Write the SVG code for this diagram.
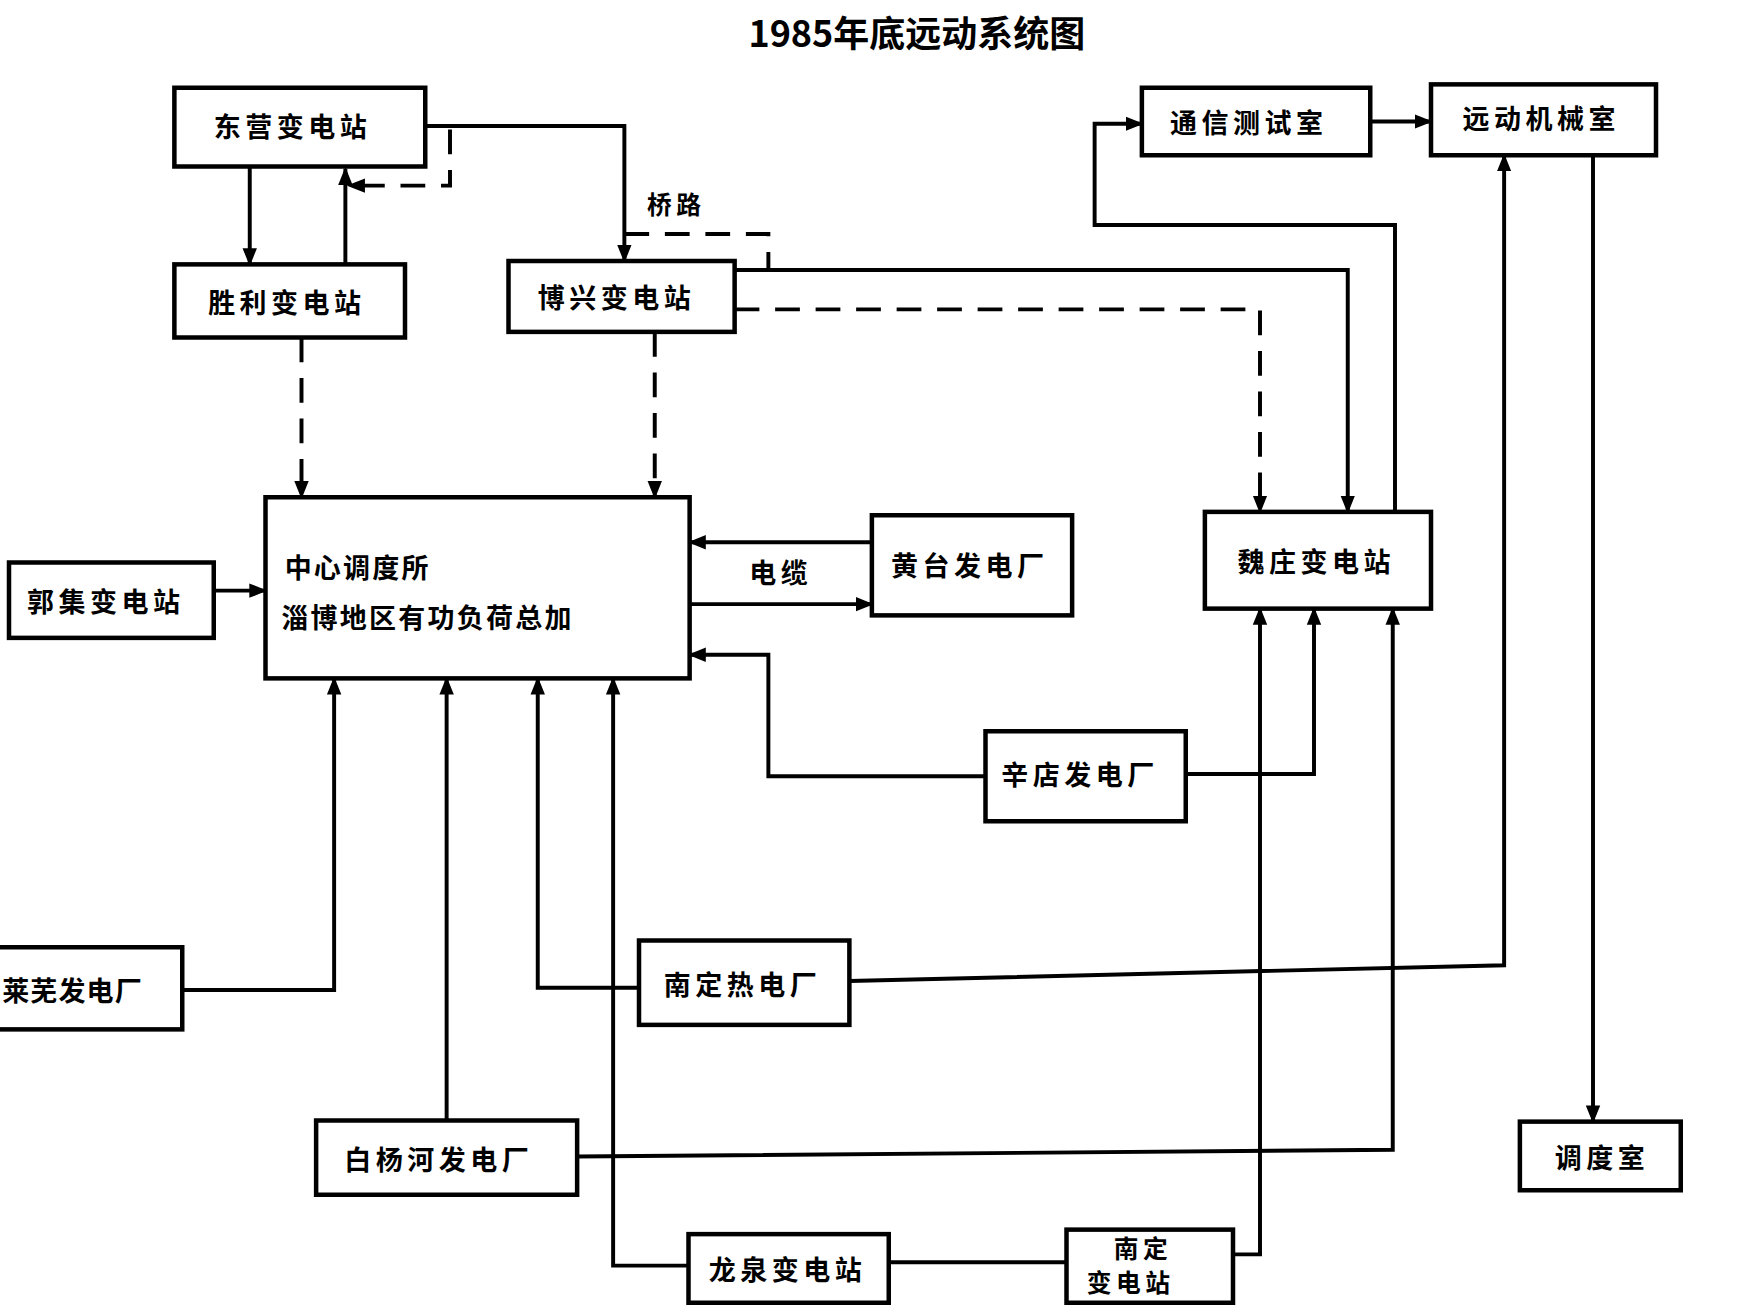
<svg xmlns="http://www.w3.org/2000/svg" width="1764" height="1309" viewBox="0 0 1764 1309">
<defs>
<style>
.b{fill:#fff;stroke:#000;stroke-width:4}
.t{font-family:"Noto Sans CJK SC","Liberation Sans",sans-serif;font-size:24px;font-weight:bold;fill:#000;letter-spacing:4px}
.c{fill:none;stroke:#000;stroke-width:3.5}
.d{stroke-dasharray:22,14}
</style>
<marker id="m" viewBox="0 0 10 10" refX="9" refY="5" markerWidth="16" markerHeight="16" orient="auto" markerUnits="userSpaceOnUse"><path d="M0,1 L10,5 L0,9 z" fill="#000"/></marker>
</defs>
<rect width="1764" height="1309" fill="#fff"/>
<g transform="scale(1.125)">
<text x="815" y="42" text-anchor="middle" style="font-family:'Noto Sans CJK SC','Liberation Serif',serif;font-size:32px;font-weight:bold">1985年底远动系统图</text>
<g id="connectors" style="marker-end:url(#m)">
<path class="c" d="M222,148 V235"/>
<path class="c" d="M307,235 V150"/>
<path class="c d" d="M400,115 V165 H310"/>
<path class="c" d="M378,112 H555 V232"/>
<path class="c d" style="marker-end:none" d="M555,208 H683 V240"/>
<path class="c" d="M653,240 H1198 V455"/>
<path class="c d" d="M653,275 H1120 V455"/>
<path class="c d" d="M268,300 V442"/>
<path class="c d" d="M582,295 V442"/>
<path class="c" d="M190,525 H236"/>
<path class="c" d="M775,482 H613"/>
<path class="c" d="M613,537 H775"/>
<path class="c" d="M876,690 H683 V582 H613"/>
<path class="c" d="M1054,688 H1168 V541"/>
<path class="c" d="M162,880 H297 V603"/>
<path class="c" d="M397,996 V603"/>
<path class="c" d="M568,878 H478 V603"/>
<path class="c" d="M612,1125 H545 V603"/>
<path class="c" d="M755,872 L1337,858 V138"/>
<path class="c" d="M513,1028 L1238,1022 V541"/>
<path class="c" style="marker-end:none" d="M790,1122 H948"/>
<path class="c" d="M1096,1115 H1120 V541"/>
<path class="c" d="M1240,455 V200 H973 V110 H1015"/>
<path class="c" d="M1218,108 H1272"/>
<path class="c" d="M1416,138 V997"/>
</g>
<text class="t" x="575" y="190" style="font-size:22px">桥路</text>
<text class="t" x="666" y="518">电缆</text>
<g id="dongying"><rect class="b" x="155" y="78" width="223" height="70"/><text class="t" x="190" y="122">东营变电站</text></g>
<g id="shengli"><rect class="b" x="155" y="235" width="205" height="65"/><text class="t" x="185" y="278">胜利变电站</text></g>
<g id="boxing"><rect class="b" x="452" y="232" width="201" height="63"/><text class="t" x="478" y="274">博兴变电站</text></g>
<g id="tongxin"><rect class="b" x="1015" y="78" width="203" height="60"/><text class="t" x="1040" y="118">通信测试室</text></g>
<g id="yuandong"><rect class="b" x="1272" y="75" width="200" height="63"/><text class="t" x="1300" y="115">远动机械室</text></g>
<g id="zhongxin"><rect class="b" x="236" y="442" width="377" height="161"/><text class="t" x="253" y="514" style="letter-spacing:2px">中心调度所</text><text class="t" x="250" y="558" style="letter-spacing:2px">淄博地区有功负荷总加</text></g>
<g id="huangtai"><rect class="b" x="775" y="458" width="178" height="89"/><text class="t" x="792" y="512">黄台发电厂</text></g>
<g id="weizhuang"><rect class="b" x="1071" y="455" width="201" height="86"/><text class="t" x="1100" y="508">魏庄变电站</text></g>
<g id="guoji"><rect class="b" x="8" y="500" width="182" height="67"/><text class="t" x="24" y="544">郭集变电站</text></g>
<g id="xindian"><rect class="b" x="876" y="650" width="178" height="80"/><text class="t" x="890" y="698">辛店发电厂</text></g>
<g id="laiwu"><rect class="b" x="-10" y="842" width="172" height="73"/><text class="t" x="2" y="890" style="letter-spacing:1px">莱芜发电厂</text></g>
<g id="nandingre"><rect class="b" x="568" y="836" width="187" height="75"/><text class="t" x="590" y="884">南定热电厂</text></g>
<g id="baiyanghe"><rect class="b" x="281" y="996" width="232" height="66"/><text class="t" x="306" y="1040">白杨河发电厂</text></g>
<g id="diaodu"><rect class="b" x="1351" y="997" width="143" height="61"/><text class="t" x="1382" y="1038">调度室</text></g>
<g id="longquan"><rect class="b" x="612" y="1097" width="178" height="61"/><text class="t" x="630" y="1138">龙泉变电站</text></g>
<g id="nanding"><rect class="b" x="948" y="1093" width="148" height="65"/><text class="t" x="990" y="1118" style="font-size:22px">南定</text><text class="t" x="966" y="1148" style="font-size:22px">变电站</text></g>
</g>
</svg>
